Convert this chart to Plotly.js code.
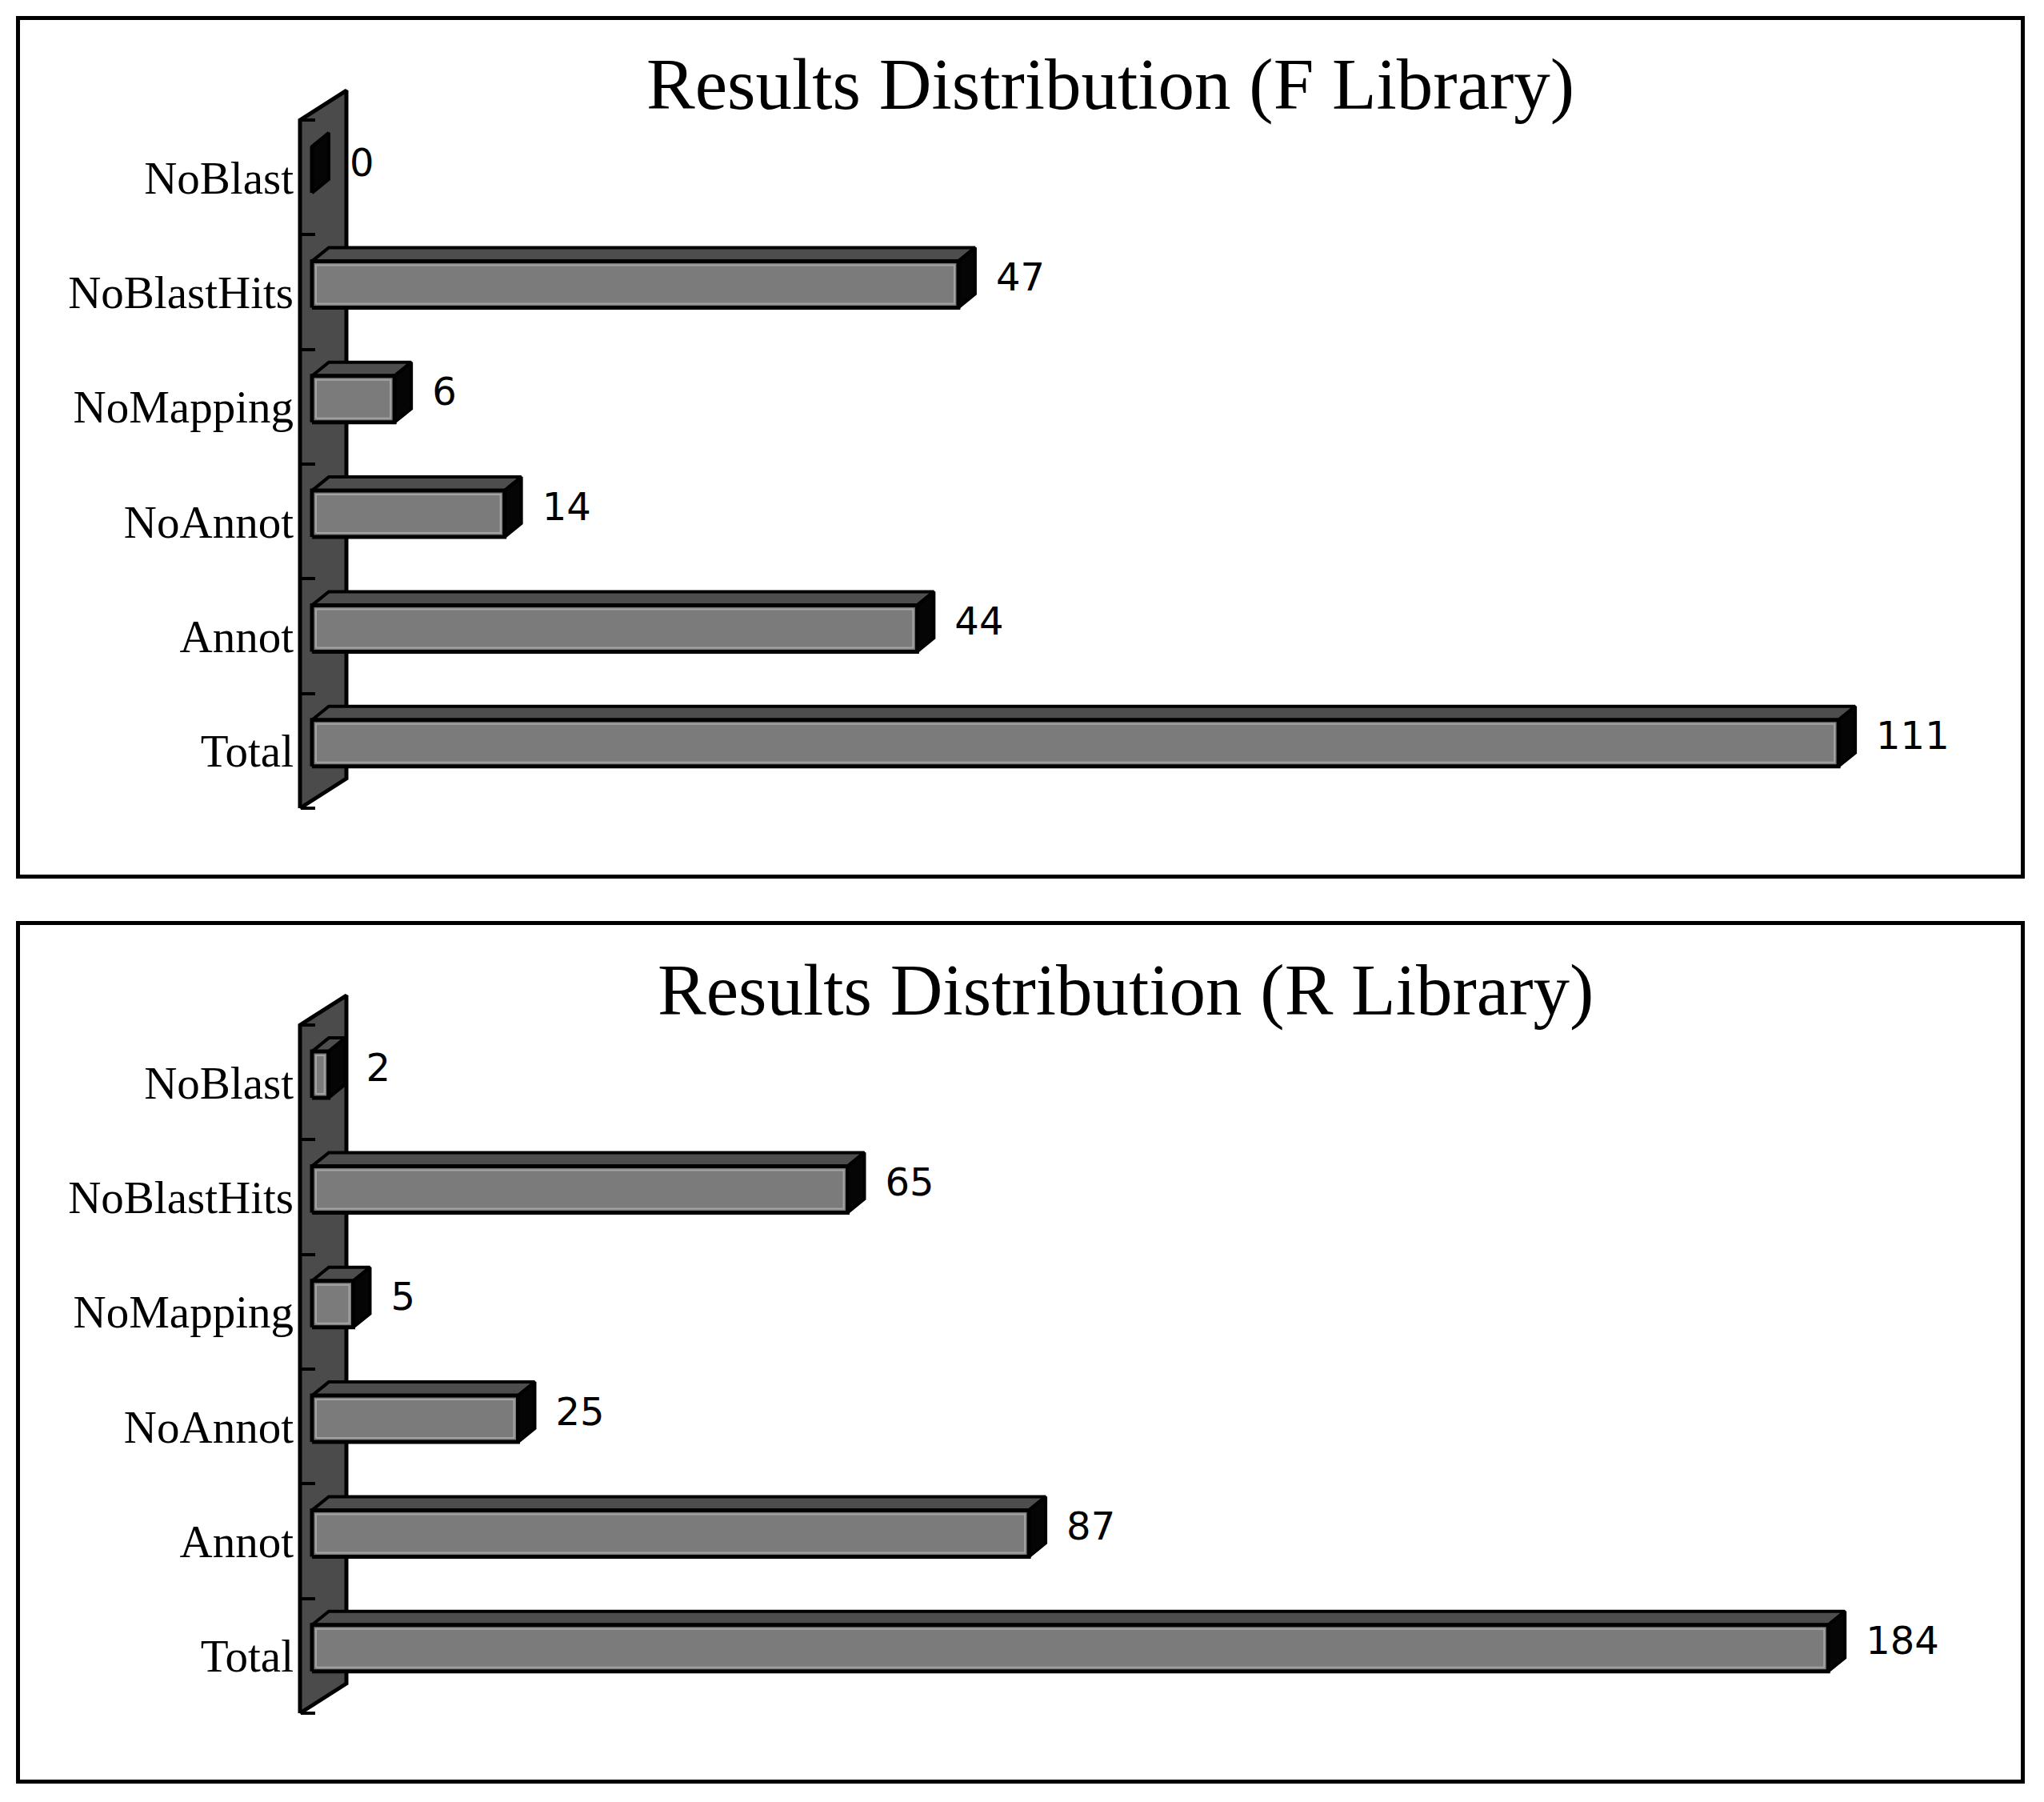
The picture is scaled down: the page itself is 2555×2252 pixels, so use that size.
<!DOCTYPE html>
<html><head><meta charset="utf-8">
<script src="https://cdn.plot.ly/plotly-3.0.1.min.js"></script>
<style>html,body{margin:0;padding:0;background:#fff}#chart{width:2555px;height:2252px}</style>
</head><body><div id="chart"></div>
<script>
// ---- data ----
const categories = ["NoBlast", "NoBlastHits", "NoMapping", "NoAnnot", "Annot", "Total"];
const fLibraryValues = [0, 47, 6, 14, 44, 111];
const rLibraryValues = [2, 65, 5, 25, 87, 184];
const panelTitles = ["Results Distribution (F Library)", "Results Distribution (R Library)"];

// ---- layout geometry (pixels) ----
const W = 2555, H = 2252;
const catPx = 143.33;          // pixels per category slot
const wallBottomPx = 1010;     // bottom of wall front edge (top panel)
const wallFrontPx = 375;       // wall front edge x
const wallDX = 58, wallDY = 37;
const frontOffX = 15, frontOffY = 9.6;
const barHalfPx = 29;
const barDX = 21, barDY = 17;
const labelGapPx = 26, labelUpPx = 14;
const xDomPx = [330, 2530];

const panels = [
  {values: fLibraryValues, title: panelTitles[0], offsetY: 0, pxPerUnit: 17.19, titleX: 1388},
  {values: rLibraryValues, title: panelTitles[1], offsetY: 1131, pxPerUnit: 10.30, titleX: 1407}
];

const n = categories.length;
const traces = [];
const layout = {
  width: W, height: H, autosize: false,
  margin: {l: 0, r: 0, t: 0, b: 0, pad: 0},
  paper_bgcolor: '#ffffff', plot_bgcolor: 'rgba(0,0,0,0)',
  showlegend: false,
  annotations: [], shapes: []
};

panels.forEach((p, pi) => {
  const s = p.pxPerUnit;
  const xa = pi === 0 ? 'x' : 'x2';
  const ya = pi === 0 ? 'y' : 'y2';
  const base = wallBottomPx + p.offsetY;
  const kAt = py => (base - py) / catPx - 0.5;
  const yTop = 90 + p.offsetY, yBot = 1040 + p.offsetY;

  // wall
  const wx = [0, 0, wallDX / s, wallDX / s, 0];
  const wy = [-0.5, n - 0.5, n - 0.5 + wallDY / catPx, -0.5 + wallDY / catPx, -0.5];
  traces.push({type: 'scatter', mode: 'lines', x: wx, y: wy, xaxis: xa, yaxis: ya,
    fill: 'toself', fillcolor: '#4b4b4b', line: {color: '#000', width: 5}, hoverinfo: 'skip'});

  const fx = [], fy = [], tx = [], ty = [], sx = [], sy = [], hx = [], hy = [];
  const lx = [], ly = [], lt = [];
  p.values.forEach((v, i) => {
    const k = n - 1 - i;
    const yc = k + frontOffY / catPx;
    const h2 = barHalfPx / catPx;
    const x0 = frontOffX / s, x1 = frontOffX / s + v;
    const bdx = barDX / s, bdy = barDY / catPx;
    fx.push(x0, x1, x1, x0, x0, null);
    fy.push(yc - h2, yc - h2, yc + h2, yc + h2, yc - h2, null);
    tx.push(x0, x1, x1 + bdx, x0 + bdx, x0, null);
    ty.push(yc + h2, yc + h2, yc + h2 + bdy, yc + h2 + bdy, yc + h2, null);
    sx.push(x1, x1 + bdx, x1 + bdx, x1, x1, null);
    sy.push(yc - h2, yc - h2 + bdy, yc + h2 + bdy, yc + h2, yc - h2, null);
    if (v * s > 14) {
      const ix = 5 / s, iy = 5 / catPx;
      hx.push(x0 + ix, x1 - ix, x1 - ix, x0 + ix, x0 + ix, null);
      hy.push(yc - h2 + iy, yc - h2 + iy, yc + h2 - iy, yc + h2 - iy, yc - h2 + iy, null);
    }
    lx.push(x1 + bdx + labelGapPx / s);
    ly.push(k + labelUpPx / catPx);
    lt.push(String(v));
  });
  traces.push({type: 'scatter', mode: 'lines', x: tx, y: ty, xaxis: xa, yaxis: ya,
    fill: 'toself', fillcolor: '#4d4d4d', line: {color: '#000', width: 4}, hoverinfo: 'skip'});
  traces.push({type: 'scatter', mode: 'lines', x: sx, y: sy, xaxis: xa, yaxis: ya,
    fill: 'toself', fillcolor: '#050505', line: {color: '#000', width: 4}, hoverinfo: 'skip'});
  traces.push({type: 'scatter', mode: 'lines', x: fx, y: fy, xaxis: xa, yaxis: ya,
    fill: 'toself', fillcolor: '#7b7b7b', line: {color: '#000', width: 5}, hoverinfo: 'skip'});
  traces.push({type: 'scatter', mode: 'lines', x: hx, y: hy, xaxis: xa, yaxis: ya,
    line: {color: '#a4a4a4', width: 2}, hoverinfo: 'skip'});
  traces.push({type: 'scatter', mode: 'text', x: lx, y: ly, text: lt, xaxis: xa, yaxis: ya,
    textposition: 'middle right', cliponaxis: false,
    textfont: {family: 'DejaVu Sans', size: 48, color: '#000'}, hoverinfo: 'skip'});

  const xKey = pi === 0 ? 'xaxis' : 'xaxis2';
  const yKey = pi === 0 ? 'yaxis' : 'yaxis2';
  layout[xKey] = {
    domain: [xDomPx[0] / W, xDomPx[1] / W],
    range: [(xDomPx[0] - wallFrontPx) / s, (xDomPx[1] - wallFrontPx) / s],
    visible: false, anchor: ya, fixedrange: true
  };
  const ks = categories.map((c, i) => n - 1 - i);
  const bounds = [];
  for (let b = -0.5; b <= n - 0.5 + 1e-9; b += 1) bounds.push(b);
  layout[yKey] = {
    domain: [1 - yBot / H, 1 - yTop / H],
    range: [kAt(yBot), kAt(yTop)],
    anchor: 'free', position: wallFrontPx / W,
    tickmode: 'array', tickvals: ks, ticktext: categories,
    ticks: '', showgrid: false, zeroline: false, showline: false,
    ticklabelstandoff: 8,
    tickfont: {family: 'Liberation Serif', size: 57, color: '#000'},
    minor: {tickmode: 'array', tickvals: bounds, ticks: 'inside', ticklen: 18, tickwidth: 4, tickcolor: '#000', showgrid: false},
    fixedrange: true
  };

  layout.annotations.push({
    xref: 'paper', yref: 'paper', x: p.titleX / W, y: 1 - (106 + p.offsetY) / H,
    xanchor: 'center', yanchor: 'middle', showarrow: false, text: p.title,
    font: {family: 'Liberation Serif', size: 91, color: '#000'}
  });
  layout.shapes.push({
    type: 'rect', xref: 'paper', yref: 'paper',
    x0: 22.5 / W, x1: 2528.5 / W, y0: 1 - (22.5 + p.offsetY) / H, y1: 1 - (1095.5 + p.offsetY) / H,
    line: {color: '#000', width: 5}, fillcolor: 'rgba(0,0,0,0)'
  });
});

Plotly.newPlot('chart', traces, layout, {staticPlot: true, displayModeBar: false});
</script>
</body></html>
